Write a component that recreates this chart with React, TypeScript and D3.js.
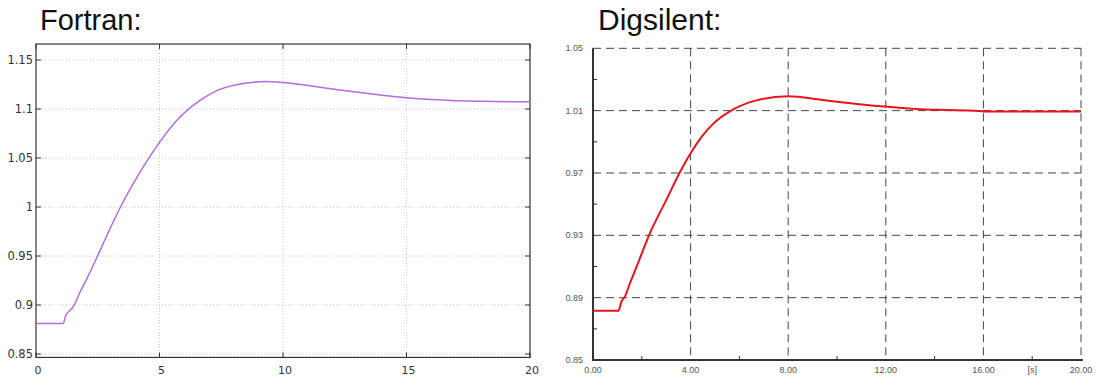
import React from 'react';
import * as d3 from 'd3';

// Fortran trace
const fortranTime = [0, 1.1, 1.2, 1.35, 1.5, 1.8, 2.1, 2.6, 3.0, 3.4, 4.2, 5.0, 5.8, 6.6, 7.3, 8.4, 9.3, 10.0, 12.0, 14.0, 15.0, 16.8, 18.1, 20];
const fortranValue = [0.881, 0.881, 0.889, 0.894, 0.898, 0.914, 0.929, 0.956, 0.978, 0.999, 1.035, 1.066, 1.091, 1.108, 1.1185, 1.126, 1.128, 1.127, 1.1203, 1.114, 1.1115, 1.1088, 1.1078, 1.1073];
const fortranXTicks = [0, 5, 10, 15, 20];
const fortranYTicks = [0.85, 0.9, 0.95, 1, 1.05, 1.1, 1.15];

// Digsilent trace
const digTime = [0, 1.04, 1.17, 1.31, 1.52, 1.79, 2.33, 3.02, 3.56, 4.04, 4.45, 4.9, 5.75, 6.7, 8.0, 9.4, 10.8, 12.0, 13.25, 14.2, 15.7, 16.0, 20];
const digValue = [0.8816, 0.8816, 0.8876, 0.8908, 0.8995, 0.91, 0.9313, 0.9532, 0.9705, 0.9836, 0.9932, 1.0012, 1.0108, 1.0166, 1.0192, 1.0169, 1.0143, 1.0126, 1.0111, 1.0105, 1.01, 1.0094, 1.0094];
const digXTicks = [0, 4, 8, 12, 16, 20];
const digXMinor = [2, 6, 10, 14, 18];
const digYTicks = [0.85, 0.89, 0.93, 0.97, 1.01, 1.05];
const digYMinor = [0.87, 0.91, 0.95, 0.99, 1.03];

const W = 1099;
const H = 383;

const FortranPlot: React.FC = () => {
  const x = d3.scaleLinear().domain([0, 20]).range([36, 530]);
  const y = d3.scaleLinear().domain([0.85, 1.15]).range([354, 60]);
  const top = y(1.1663);
  const bottom = y(0.8465);
  const line = d3.line<number>()
    .x((_, i) => x(fortranTime[i]))
    .y(d => y(d))
    .curve(d3.curveMonotoneX);
  const font = '"DejaVu Sans", sans-serif';

  return (
    <g>
      <text x={40} y={30} fontFamily='"Liberation Sans", Arial, sans-serif' fontSize={29} fill="#111">Fortran:</text>
      {/* grid */}
      {fortranXTicks.slice(1, -1).map(t => (
        <line key={'gx' + t} x1={x(t)} x2={x(t)} y1={top} y2={bottom} stroke="#c8c8c8" strokeDasharray="1,2" />
      ))}
      {fortranYTicks.map(v => (
        <line key={'gy' + v} x1={x(0)} x2={x(20)} y1={y(v)} y2={y(v)} stroke="#c8c8c8" strokeDasharray="1,2" />
      ))}
      {/* ticks */}
      {fortranXTicks.map(t => (
        <g key={'tx' + t}>
          <line x1={x(t)} x2={x(t)} y1={top} y2={top + 5} stroke="#333" />
          <line x1={x(t)} x2={x(t)} y1={bottom} y2={bottom - 5} stroke="#333" />
          <text x={x(t) + 2} y={374} textAnchor="middle" fontFamily={font} fontSize={11} fill="#333">{t}</text>
        </g>
      ))}
      {fortranYTicks.map(v => (
        <g key={'ty' + v}>
          <line x1={x(0)} x2={x(0) + 5} y1={y(v)} y2={y(v)} stroke="#333" />
          <line x1={x(20)} x2={x(20) - 5} y1={y(v)} y2={y(v)} stroke="#333" />
          <text x={33} y={y(v) + 4} textAnchor="end" fontFamily={font} fontSize={11.5} fill="#333">{String(v)}</text>
        </g>
      ))}
      <rect x={x(0)} y={top} width={x(20) - x(0)} height={bottom - top} fill="none" stroke="#333" strokeWidth={1.2} />
      <path d={line(fortranValue) || ''} fill="none" stroke="#b36be0" strokeWidth={1.5} />
    </g>
  );
};

const DigsilentPlot: React.FC = () => {
  const x = d3.scaleLinear().domain([0, 20]).range([593, 1081]);
  const y = d3.scaleLinear().domain([0.85, 1.05]).range([360, 48.3]);
  const line = d3.line<number>()
    .x((_, i) => x(digTime[i]))
    .y(d => y(d))
    .curve(d3.curveMonotoneX);
  const font = '"Liberation Sans", Arial, sans-serif';

  return (
    <g>
      <text x={598} y={30} fontFamily={font} fontSize={30} fill="#111">Digsilent:</text>
      {/* dashed grid */}
      {digXTicks.slice(1).map(t => (
        <line key={'gx' + t} x1={x(t)} x2={x(t)} y1={y(1.05)} y2={y(0.85)} stroke="#444" strokeDasharray="8,5" />
      ))}
      {digYTicks.slice(1).map(v => (
        <line key={'gy' + v} x1={x(0)} x2={x(20)} y1={y(v)} y2={y(v)} stroke="#444" strokeDasharray="8,5" />
      ))}
      {/* minor ticks */}
      {digXMinor.map(t => (
        <line key={'mx' + t} x1={x(t)} x2={x(t)} y1={y(0.85)} y2={y(0.85) - 4} stroke="#333" />
      ))}
      {digYMinor.map(v => (
        <line key={'my' + v} x1={x(0)} x2={x(0) + 4} y1={y(v)} y2={y(v)} stroke="#333" />
      ))}
      {/* axes */}
      <line x1={x(0)} x2={x(0)} y1={y(1.05)} y2={y(0.85) + 1} stroke="#333" strokeWidth={2} />
      <line x1={x(0) - 1} x2={x(20) + 2} y1={y(0.85)} y2={y(0.85)} stroke="#333" strokeWidth={2} />
      {digXTicks.map(t => (
        <text key={'lx' + t} x={x(t)} y={373} textAnchor="middle" fontFamily={font} fontSize={9} fill="#555">{t.toFixed(2)}</text>
      ))}
      <text x={x(18)} y={373} textAnchor="middle" fontFamily={font} fontSize={9} fill="#555">[s]</text>
      {digYTicks.map(v => (
        <text key={'ly' + v} x={583} y={y(v) + 3} textAnchor="end" fontFamily={font} fontSize={9} fill="#555">{v.toFixed(2)}</text>
      ))}
      <path d={line(digValue) || ''} fill="none" stroke="#e8141c" strokeWidth={2} />
    </g>
  );
};

export default function App() {
  return (
    <svg width={W} height={H} style={{ position: 'absolute', left: 0, top: 0, background: '#fff' }}>
      <rect width={W} height={H} fill="#fff" />
      <FortranPlot />
      <DigsilentPlot />
    </svg>
  );
}
